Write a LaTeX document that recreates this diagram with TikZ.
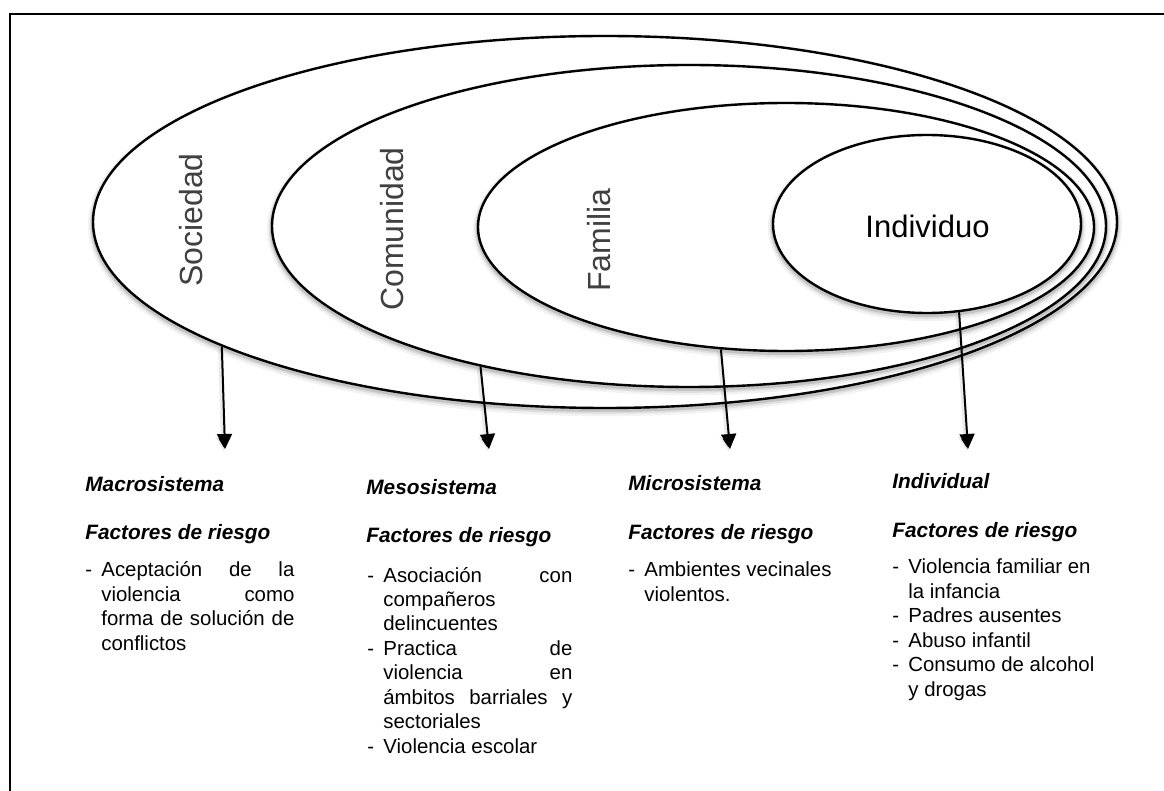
\documentclass[tikz,border=0pt]{standalone}
\usepackage{fontspec}
\setmainfont{Liberation Sans}
\usetikzlibrary{shapes.geometric,arrows.meta}
\newcommand{\itemline}[1]{\noindent\makebox[8pt][l]{-}#1\par}
\newcommand{\itemjust}[1]{\noindent\makebox[8pt][l]{-}\makebox[\dimexpr\linewidth-8pt\relax][s]{#1}\par}
\newcommand{\contline}[1]{\noindent\hspace*{8pt}#1\par}
\newcommand{\contjust}[1]{\noindent\hspace*{8pt}\makebox[\dimexpr\linewidth-8pt\relax][s]{#1}\par}
\newcommand{\collist}[2]{\parbox[t]{#1}{\fontsize{10.2pt}{12.25pt}\selectfont\parskip=0pt\relax #2}}
\begin{document}
\begin{tikzpicture}[x=0.5pt,y=-0.5pt,
  softshadow/.style={
    preaction={draw=black, draw opacity=0.05, line width=5pt, transform canvas={yshift=-1.6pt}},
    preaction={draw=black, draw opacity=0.08, line width=3.2pt, transform canvas={yshift=-1.3pt}},
    preaction={draw=black, draw opacity=0.12, line width=2pt, transform canvas={yshift=-1pt}}},
  ell/.style={ellipse, draw=black, line width=1.2pt, fill=white, inner sep=0pt, softshadow},
  lbl/.style={font=\fontsize{16pt}{16pt}\selectfont, text=black!75, inner sep=0pt},
  hd/.style={font=\fontsize{10.4pt}{12pt}\selectfont\bfseries\itshape, inner sep=0pt, anchor=base west},
  lst/.style={inner sep=0pt, anchor=base west},
  arr/.style={line width=1pt, -{Triangle[length=7.5pt,width=7.5pt]},
    preaction={draw=black, draw opacity=0.08, line width=2.5pt, transform canvas={shift={(-0.6pt,-1.2pt)}}}}
]
\useasboundingbox (0,0) rectangle (1164,791);
\draw[line width=1pt] (10,800) -- (10,14) -- (1180,14);

% nested ellipses
\node[ell, minimum width=512pt, minimum height=186pt] (soc) at (605,222) {};
\node[ell, minimum width=417pt, minimum height=161pt] (com) at (689,226) {};
\node[ell, minimum width=308pt, minimum height=124pt] (fam) at (786,227) {};
\node[ell, minimum width=154pt, minimum height=89pt] (ind) at (927,224) {};

% ellipse labels
\node[lbl, rotate=90, anchor=base] (tsoc) at (202,220) {Sociedad};
\node[lbl, rotate=90, anchor=base] (tcom) at (403,229) {Comunidad};
\node[lbl, rotate=90, anchor=base] (tfam) at (610,240) {Familia};
\node[font=\fontsize{15.5pt}{16pt}\selectfont, inner sep=0pt, anchor=base] (tind) at (927.5,238) {Individuo};

% arrow ends
\coordinate (e1) at (225,449);
\coordinate (e2) at (489,449);
\coordinate (e3) at (730,449);
\coordinate (e4) at (968,449);
\draw[arr] (soc.198.7) -- (e1);
\draw[arr] (com.214.5) -- (e2);
\draw[arr] (fam.242.7) -- (e3);
\draw[arr] (ind.290.8) -- (e4);

% Macrosistema column
\node[hd] (h1) at (85,492) {Macrosistema};
\node[hd] (f1) at (85,540) {Factores de riesgo};
\node[lst] (l1) at (85,577) {\collist{104.5pt}{%
  \itemjust{Aceptación de la}
  \contjust{violencia como}
  \contjust{forma de solución de}
  \contline{conflictos}}};

% Mesosistema column
\node[hd] (h2) at (366,495) {Mesosistema};
\node[hd] (f2) at (366,543) {Factores de riesgo};
\node[lst] (l2) at (367,582) {\collist{102.5pt}{%
  \itemjust{Asociación con}
  \contline{compañeros}
  \contline{delincuentes}
  \itemjust{Practica de}
  \contjust{violencia en}
  \contjust{ámbitos barriales y}
  \contline{sectoriales}
  \itemline{Violencia escolar}}};

% Microsistema column
\node[hd] (h3) at (628,491) {Microsistema};
\node[hd] (f3) at (628,540) {Factores de riesgo};
\node[lst] (l3) at (628,577) {\collist{110pt}{%
  \itemline{Ambientes vecinales}
  \contline{violentos.}}};

% Individual column
\node[hd] (h4) at (892,489) {Individual};
\node[hd] (f4) at (892,538) {Factores de riesgo};
\node[lst] (l4) at (892,574) {\collist{110pt}{%
  \itemline{Violencia familiar en}
  \contline{la infancia}
  \itemline{Padres ausentes}
  \itemline{Abuso infantil}
  \itemline{Consumo de alcohol}
  \contline{y drogas}}};
\end{tikzpicture}
\end{document}
